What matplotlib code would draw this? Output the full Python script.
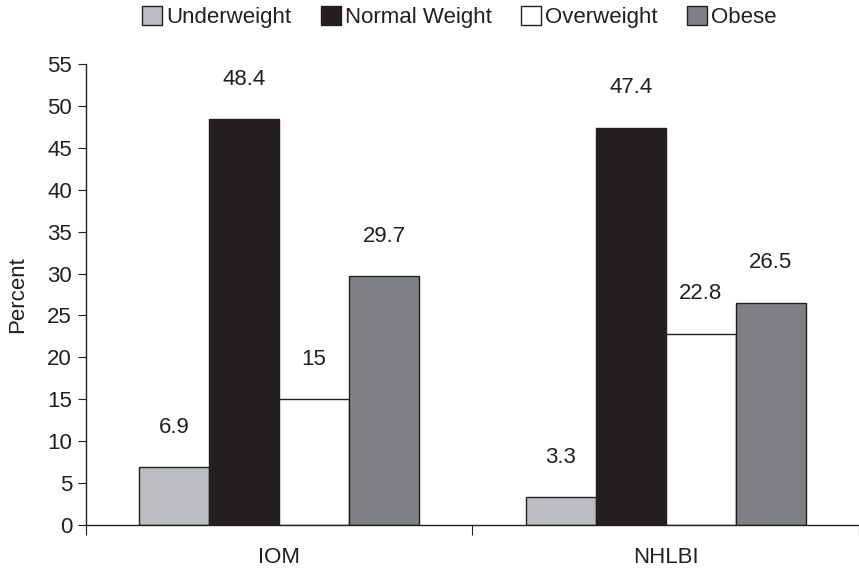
import matplotlib
matplotlib.use("Agg")
import matplotlib.pyplot as plt
from matplotlib.patches import Patch
import numpy as np

plt.rcParams['font.family'] = ['Liberation Sans', 'DejaVu Sans']

categories = ["IOM", "NHLBI"]
series = ["Underweight", "Normal Weight", "Overweight", "Obese"]
underweight = [6.9, 3.3]
normal = [48.4, 47.4]
overweight = [15, 22.8]
obese = [29.7, 26.5]
value_labels = [["6.9", "3.3"], ["48.4", "47.4"], ["15", "22.8"], ["29.7", "26.5"]]
colors = ["#bcbdc0", "#231f20", "#ffffff", "#808184"]
ink = "#231f20"
fs = 16

fig = plt.figure(figsize=(8.59, 5.71), dpi=100)
ax = fig.add_axes([0.100, 0.0806, 0.900, 0.8074])

x = np.arange(len(categories))
w = 0.181
data = [underweight, normal, overweight, obese]
for i, (vals, c) in enumerate(zip(data, colors)):
    pos = x + (i - 1.5) * w
    bars = ax.bar(pos, vals, width=w, color=c, edgecolor=ink, linewidth=1.0, zorder=2)
    for b, lab in zip(bars, value_labels[i]):
        ax.annotate(lab, (b.get_x() + b.get_width() / 2, b.get_height()),
                    xytext=(0, 40), textcoords="offset pixels",
                    ha="center", va="center", fontsize=fs, color=ink)

ax.set_xlim(-0.5, 1.5)
ax.set_ylim(0, 55)
ax.set_yticks(np.arange(0, 56, 5))
ax.set_xticks([-0.5, 0.5, 1.5])
ax.set_xticklabels([])
ax.set_xticks(x, minor=True)
ax.set_xticklabels(categories, minor=True)
ax.tick_params(axis="x", which="minor", length=0, pad=16, labelsize=fs, labelcolor=ink)
ax.tick_params(axis="x", which="major", length=7, direction="out", color=ink)
ax.tick_params(axis="y", length=6, direction="out", color=ink, labelsize=fs, labelcolor=ink, pad=4)
for s in ["top", "right"]:
    ax.spines[s].set_visible(False)
for s in ["left", "bottom"]:
    ax.spines[s].set_color(ink)
    ax.spines[s].set_linewidth(1.0)
ax.set_ylabel("Percent", fontsize=fs, color=ink, labelpad=14)

handles = [Patch(facecolor=c, edgecolor=ink, linewidth=1.0) for c in colors]
fig.legend(handles, series, loc="center", bbox_to_anchor=(0.535, 0.97), ncol=4, frameon=False,
           fontsize=fs, handlelength=0.9, handleheight=0.9, handletextpad=0.2, columnspacing=1.3,
           labelcolor=ink)

fig.savefig("out.png", dpi=100)
